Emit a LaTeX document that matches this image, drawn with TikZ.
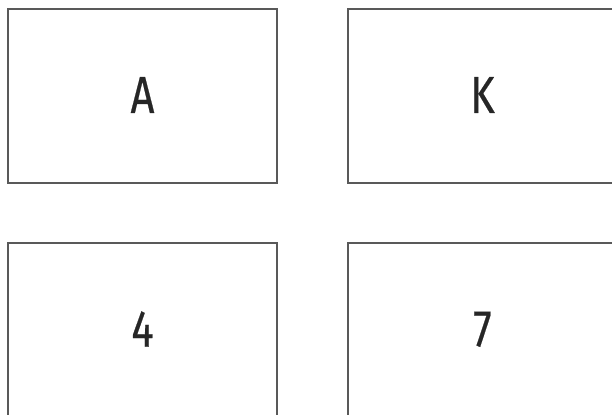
\documentclass[tikz,border=0pt]{standalone}
\usepackage{fontspec}
\newfontfamily\labfont[FakeStretch=0.8,FakeBold=0.4]{Fira Sans}
\begin{document}
\begin{tikzpicture}[x=0.75pt,y=-0.75pt,
  card/.style={draw=black!65,line width=0.8pt,rectangle,minimum width=269*0.75pt,minimum height=174*0.75pt,inner sep=0pt,
    font=\labfont\fontsize{39}{41}\selectfont,text=black!85,text depth=1.5pt}]
\useasboundingbox (0,0) rectangle (612,415);
\clip (0,0) rectangle (612,415);
\node[card] (a) at (142.5,96) {A};
\node[card] (k) at (482.5,96) {K};
\node[card] (four) at (142.5,330) {4};
\node[card] (seven) at (482.5,330) {7};
\end{tikzpicture}
\end{document}
